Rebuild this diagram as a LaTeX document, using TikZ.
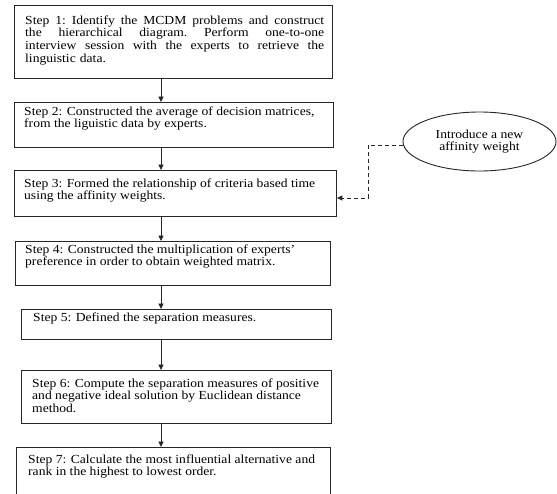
\documentclass[tikz,border=0pt]{standalone}
\usepackage{fontspec}
\setmainfont{Liberation Serif}[FakeStretch=1.105]
\usetikzlibrary{shapes.geometric,arrows.meta}
\newcommand{\jline}[1]{\leavevmode\hbox to 299pt{\frenchspacing\spaceskip=0.25em plus 1fil minus 0.1em\relax #1}}
\begin{document}
\begin{tikzpicture}[x=1pt,y=-1pt,
  box/.style={draw=black!85, line width=0.9pt, inner sep=0pt, anchor=north west},
  txt/.style={inner sep=0pt, anchor=north west, align=left, font=\fontsize{12.3}{12.7}\selectfont},
  arr/.style={draw=black!85, line width=0.9pt, -{Triangle[length=5.5pt,width=5pt]}},
  dline/.style={draw=black!85, line width=0.9pt, dash pattern=on 4pt off 3pt, -{Triangle[length=5.5pt,width=5pt]}},
  bubble/.style={ellipse, draw=black!85, line width=0.9pt, inner sep=0pt, align=center, font=\fontsize{12.3}{12.7}\selectfont}
]
\clip (0,0) rectangle (557,493);
\fill[white] (0,0) rectangle (557,493);

% boxes
\node[box, minimum width=318pt, minimum height=73pt] (b1) at (14,5) {};
\node[box, minimum width=319pt, minimum height=45pt] (b2) at (14,102) {};
\node[box, minimum width=322pt, minimum height=46pt] (b3) at (14,170) {};
\node[box, minimum width=315pt, minimum height=44pt] (b4) at (15,241) {};
\node[box, minimum width=310pt, minimum height=30pt] (b5) at (21,309) {};
\node[box, minimum width=310pt, minimum height=53pt] (b6) at (21,370) {};
\node[box, minimum width=314pt, minimum height=70pt] (b7) at (16,447) {};

% texts
\node[txt, text width=299pt] (t1) at (25,15.11) {\strut\jline{Step 1: Identify the MCDM problems and construct}\\
\jline{the hierarchical diagram. Perform one-to-one}\\
\jline{interview session with the experts to retrieve the}\\
linguistic data.};
\node[txt] (t2) at (24,106.11) {\strut Step 2: Constructed the average of decision matrices,\\from the liguistic data by experts.};
\node[txt] (t3) at (24,178.11) {\strut Step 3: Formed the relationship of criteria based time\\using the affinity weights.};
\node[txt] (t4) at (25,244.11) {\strut Step 4: Constructed the multiplication of experts'\\preference in order to obtain weighted matrix.};
\node[txt] (t5) at (33,312.11) {\strut Step 5: Defined the separation measures.};
\node[txt] (t6) at (32,378.11) {\strut Step 6: Compute the separation measures of positive\\and negative ideal solution by Euclidean distance\\method.};
\node[txt] (t7) at (28,454.11) {\strut Step 7: Calculate the most influential alternative and\\rank in the highest to lowest order.};

% ellipse
\node[bubble, minimum width=153pt, minimum height=59pt] (e) at (479.5,141.5) {Introduce a new\\affinity weight};

% vertical arrows
\coordinate (ax) at (161,0);
\draw[arr] (b1.south -| ax) -- (b2.north -| ax);
\draw[arr] (b2.south -| ax) -- (b3.north -| ax);
\draw[arr] (b3.south -| ax) -- (b4.north -| ax);
\draw[arr] (b4.south -| ax) -- (b5.north -| ax);
\draw[arr] (b5.south -| ax) -- (b6.north -| ax);
\draw[arr] (b6.south -| ax) -- (b7.north -| ax);

% dashed feedback
\coordinate (d0) at ([yshift=-3.5pt]e.west);
\coordinate (dc) at (368,198);
\draw[dline] (d0) -- (d0 -| dc) -- (dc) -- (dc -| b3.east);
\end{tikzpicture}
\end{document}
